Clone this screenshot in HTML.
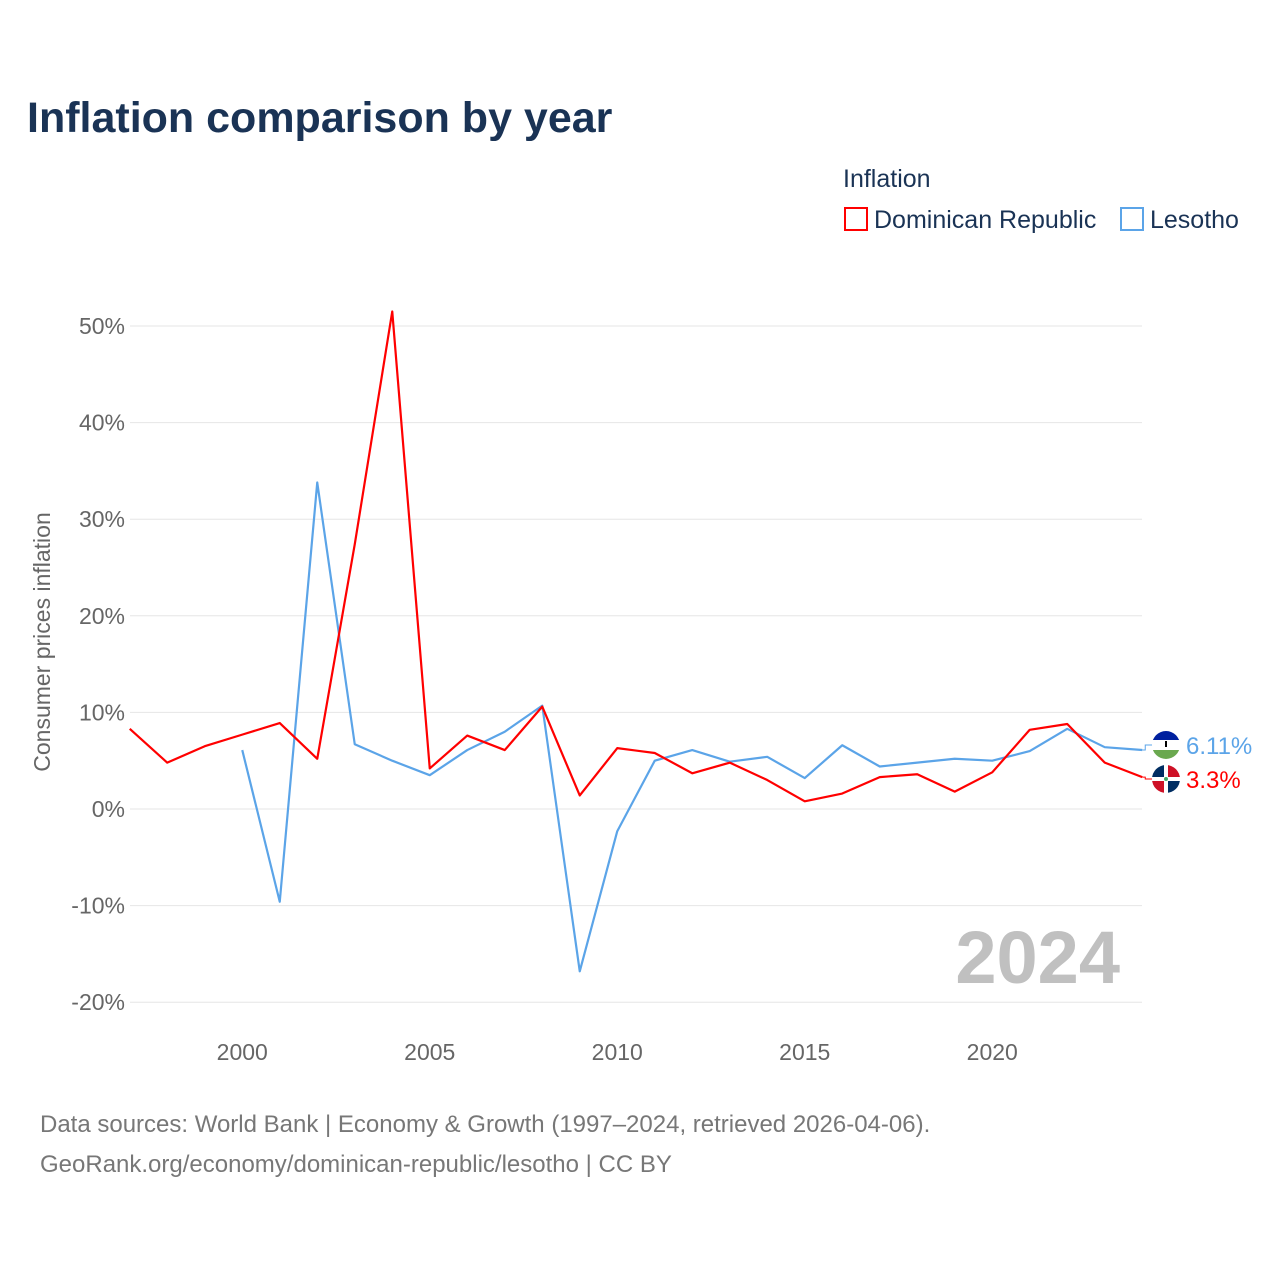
<!DOCTYPE html>
<html><head><meta charset="utf-8">
<style>
body{margin:0;background:#fff;font-family:"Liberation Sans",sans-serif;}
#wrap{position:relative;width:1280px;height:1280px;overflow:hidden;}
</style></head>
<body>
<div id="wrap">
<svg id="chart" width="1280" height="1280" xmlns="http://www.w3.org/2000/svg">
<defs>
<clipPath id="clipLs"><circle cx="1166" cy="745" r="14"/></clipPath>
<clipPath id="clipDo"><circle cx="1166" cy="779" r="14"/></clipPath>
</defs>
<text x="27" y="132" font-size="43" font-weight="bold" fill="#1a3355">Inflation comparison by year</text>
<text x="843" y="187" font-size="25" fill="#1a3355">Inflation</text>
<g>
<rect x="845" y="208" width="22" height="22" fill="none" stroke="#ff0000" stroke-width="2"/>
<text x="874" y="228" font-size="25" fill="#1a3355">Dominican Republic</text></g>
<g>
<rect x="1121" y="208" width="22" height="22" fill="none" stroke="#5ba4e8" stroke-width="2"/>
<text x="1150" y="228" font-size="25" fill="#1a3355">Lesotho</text></g>
<text transform="translate(50,642) rotate(-90)" text-anchor="middle" font-size="23" fill="#666">Consumer prices inflation</text>
<g id="grid"></g><g id="yticks"></g><g id="xticks"></g>
<text x="1120" y="983" text-anchor="end" font-size="74" font-weight="bold" fill="#c0c0c0">2024</text>
<g id="series"></g>
<text x="40" y="1132" font-size="24" fill="#777">Data sources: World Bank | Economy &amp; Growth (1997–2024, retrieved 2026-04-06).</text>
<text x="40" y="1172" font-size="24" fill="#777">GeoRank.org/economy/dominican-republic/lesotho | CC BY</text>
</svg>
</div>
<script>
const years=[1997,1998,1999,2000,2001,2002,2003,2004,2005,2006,2007,2008,2009,2010,2011,2012,2013,2014,2015,2016,2017,2018,2019,2020,2021,2022,2023,2024];
const domRep=[8.3,4.8,6.5,7.7,8.9,5.2,27.4,51.5,4.2,7.6,6.1,10.6,1.4,6.3,5.8,3.7,4.8,3.0,0.8,1.6,3.3,3.6,1.8,3.8,8.2,8.8,4.8,3.3];
const lesotho=[null,null,null,6.1,-9.6,33.8,6.7,5.0,3.5,6.1,8.0,10.7,-16.8,-2.3,5.0,6.1,4.9,5.4,3.2,6.6,4.4,4.8,5.2,5.0,6.0,8.3,6.4,6.11];
const yTicks=[-20,-10,0,10,20,30,40,50];
const xTicks=[2000,2005,2010,2015,2020];
const NS="http://www.w3.org/2000/svg";
const xS=y=>129.75+(y-1997)*37.5;
const yS=v=>809-v*9.66;
function mk(t,a,p){const e=document.createElementNS(NS,t);for(const k in a)e.setAttribute(k,a[k]);p.appendChild(e);return e;}
const grid=document.getElementById('grid'),yt=document.getElementById('yticks'),xt=document.getElementById('xticks'),ser=document.getElementById('series');
yTicks.forEach(v=>{
 const l=mk('line',{x1:130,x2:1142,y1:yS(v),y2:yS(v),stroke:'#e6e6e6','stroke-width':1},grid);
 
 
 const t=mk('text',{x:125,y:yS(v)+8,'text-anchor':'end','font-size':23,fill:'#666'},yt);
 t.textContent=v+'%';
 
 
});
xTicks.forEach(v=>{
 const t=mk('text',{x:xS(v),y:1060,'text-anchor':'middle','font-size':23,fill:'#666'},xt);
 t.textContent=v;
 
 
});
function line(vals,color,name){
 let d='';let pen=false;
 vals.forEach((v,i)=>{if(v===null){pen=false;return;}d+=(pen?'L':'M')+xS(years[i])+','+yS(v)+' ';pen=true;});
 const p=mk('path',{d:d,fill:'none',stroke:color,'stroke-width':2.2,'stroke-linejoin':'round'},ser);
 
 
}
line(lesotho,'#5ba4e8','line-lesotho');
line(domRep,'#ff0000','line-dominican-republic');
function endLabel(val,color,name,ly,flag){
 const x=xS(years[years.length-1]),y=yS(val);
 mk('path',{d:`M${x},${y} L${x+3},${y} L${x+3},${ly} L${x+10},${ly}`,stroke:color,fill:'none','stroke-width':1},ser);
 const g=mk('g',{'clip-path':flag==='ls'?'url(#clipLs)':'url(#clipDo)'},ser);
 
 
 const cx=1166;
 if(flag==='ls'){
  mk('rect',{x:cx-14,y:ly-14,width:28,height:9,fill:'#00209f'},g);
  mk('rect',{x:cx-14,y:ly-5,width:28,height:10,fill:'#fff'},g);
  mk('rect',{x:cx-14,y:ly+5,width:28,height:9,fill:'#6aa84f'},g);
  mk('rect',{x:cx-1,y:ly-4,width:2,height:6,fill:'#000'},g);
 }else{
  mk('rect',{x:cx-14,y:ly-14,width:28,height:28,fill:'#fff'},g);
  mk('rect',{x:cx-14,y:ly-14,width:12,height:12,fill:'#002d62'},g);
  mk('rect',{x:cx+2,y:ly+2,width:12,height:12,fill:'#002d62'},g);
  mk('rect',{x:cx+2,y:ly-14,width:12,height:12,fill:'#ce1126'},g);
  mk('rect',{x:cx-14,y:ly+2,width:12,height:12,fill:'#ce1126'},g);
  mk('circle',{cx:cx,cy:ly,r:2,fill:'#4a6'},g);
 }
 const t=mk('text',{x:1186,y:ly+9,'font-size':24,fill:color},ser);
 t.textContent=(val===6.11?'6.11':val)+'%';
 
 
}
endLabel(lesotho[lesotho.length-1],'#5ba4e8','lesotho',745,'ls');
endLabel(domRep[domRep.length-1],'#ff0000','dominican-republic',779,'do');
</script>
</body></html>
